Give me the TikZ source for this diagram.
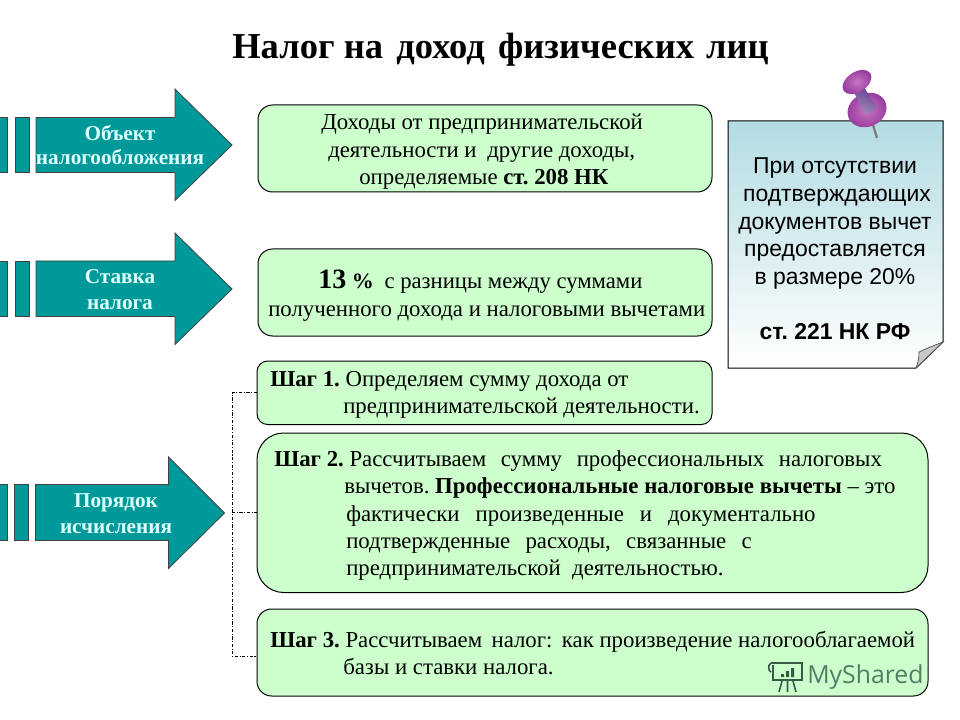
\documentclass[tikz,border=0pt]{standalone}
\usepackage{fontspec}
\setmainfont{Liberation Serif}
\newfontfamily\notefont{Liberation Sans}
\newfontfamily\markfont{Open Sans}
\definecolor{teal1}{HTML}{009999}
\definecolor{mint}{HTML}{CCFFCC}
\definecolor{pale}{HTML}{DDFFFF}
\definecolor{noteTop}{HTML}{B3DCE3}
\definecolor{pinL}{HTML}{C974C2}
\definecolor{pinA}{HTML}{93399B}
\definecolor{pinB}{HTML}{5E3A8C}
\definecolor{pinS}{HTML}{A88CBE}
\definecolor{wm}{HTML}{4F8066}
\tikzset{
  arrowshape/.style={fill=teal1,draw=black!75,line width=.6pt},
  arrowlabel/.style={font=\frenchspacing\fontsize{15.9}{19.5}\selectfont\bfseries,text=pale,align=center,inner sep=0pt},
  greenbox/.style={draw=black,fill=mint,line width=.75pt,rounded corners=#1},
  bodytext/.style={font=\frenchspacing\fontsize{17.1}{20.5}\selectfont,align=left,anchor=north west,inner sep=0pt},
  pinpart/.style={inner color=pinL,outer color=pinA},
  wmline/.style={wm!70!black,line width=1.2pt},
  bus/.style={draw=black,line width=.5pt,dash pattern=on 2.4pt off 1.2pt on .8pt off 1.2pt},
}
\begin{document}
\begin{tikzpicture}[x=.75pt,y=-.75pt]
\useasboundingbox (0,0) rectangle (960,720);
\fill[white] (0,0) rectangle (960,720);

\node[font=\frenchspacing\fontsize{27.4}{30}\selectfont\bfseries,inner sep=0pt,anchor=base] (title) at (500.5,59) {Налог на\hspace{10pt}доход\hspace{10pt}физических\hspace{9pt}лиц};

% arrows
\fill[teal1,draw=black!75,line width=.6pt] (-3,117.5) rectangle (7.5,172.5);
\fill[teal1,draw=black!75,line width=.6pt] (15,117.5) rectangle (29.5,172.5);
\path[arrowshape] (36,117.5) -- (175,117.5) -- (175,89) -- (232,145) -- (175,200.5) -- (175,172.5) -- (36,172.5) -- cycle;
\node[arrowlabel,font=\frenchspacing\fontsize{15.9}{18}\selectfont\bfseries] (a1) at (120,145) {Объект\\налогообложения};

\fill[teal1,draw=black!75,line width=.6pt] (-3,261) rectangle (7.5,316.5);
\fill[teal1,draw=black!75,line width=.6pt] (15,261) rectangle (29.5,316.5);
\path[arrowshape] (36,261) -- (175,261) -- (175,233) -- (232,289) -- (175,344.5) -- (175,316.5) -- (36,316.5) -- cycle;
\node[arrowlabel] (a2) at (120,290) {Ставка\\налога};

\fill[teal1,draw=black!75,line width=.6pt] (-3,484.5) rectangle (7.5,540.5);
\fill[teal1,draw=black!75,line width=.6pt] (14.5,484.5) rectangle (28.5,540.5);
\path[arrowshape] (35.5,484.5) -- (168.5,484.5) -- (168.5,457) -- (224.5,513) -- (168.5,568.5) -- (168.5,540.5) -- (35.5,540.5) -- cycle;
\node[arrowlabel] (a3) at (116,514) {Порядок\\исчисления};

% green boxes
\draw[greenbox=11pt] (258,105) rectangle (712,192);
\draw[greenbox=11pt] (258,249) rectangle (712,336);
\draw[greenbox=8pt] (257,361) rectangle (712,424.5);
\draw[greenbox=20pt] (257,433) rectangle (928,592.5);
\draw[greenbox=11pt] (257,609) rectangle (928,696);

\coordinate (s1) at (257,392.5);
\coordinate (s2) at (257,512.5);
\coordinate (s3) at (257,656);
\coordinate (busTop) at (232,392.5);
\coordinate (busMid) at (232,512.5);
\coordinate (busEnd) at (232,656);
\draw[bus] (s1) -- (busTop) -- (busEnd) -- (s3);
\draw[bus] (busMid) -- (s2);

% texts
\node[bodytext] (t1) at (321,114) {\fontsize{17.1}{20.25}\selectfont Доходы от предпринимательской\\\hspace*{5.25pt}деятельности и\hspace{8pt}другие доходы,\\\hspace*{28.5pt}определяемые \textbf{ст. 208 НК}};
\node[bodytext] (t2) at (268,270) {\fontsize{17}{21.75}\selectfont\hspace*{37.5pt}{\fontsize{21}{21.75}\selectfont\textbf{13}} {\fontsize{16.5}{21.75}\selectfont\textbf{\%}}\hspace{8pt}с разницы между суммами\\полученного дохода и налоговыми вычетами};
\node[bodytext] (t3) at (270,371) {\textbf{Шаг 1.} Определяем сумму дохода от\\\hspace*{54.75pt}предпринимательской деятельности.};
\node[bodytext] (t4) at (274,450.5) {\textbf{Шаг 2.} Рассчитываем\hspace{11pt}сумму\hspace{11pt}профессиональных\hspace{11pt}налоговых\\\hspace*{52.5pt}вычетов. \textbf{Профессиональные налоговые вычеты} -- это\\\hspace*{54pt}фактически\hspace{12pt}произведенные\hspace{12pt}и\hspace{12pt}документально\\\hspace*{54pt}подтвержденные\hspace{11.5pt}расходы,\hspace{11.5pt}связанные\hspace{11.5pt}с\\\hspace*{54pt}предпринимательской\ \ деятельностью.};
\node[bodytext] (t5) at (270,631) {\textbf{Шаг 3.} Рассчитываем\hspace{7pt}налог:\hspace{7pt}как произведение налогооблагаемой\\\hspace*{54.75pt}базы и ставки налога.};

% note
\path[draw=black,line width=.75pt,top color=noteTop,bottom color=white] (728,121) -- (943,121) -- (943,342) -- (916,368) -- (728,368) -- cycle;
\draw[black!70,line width=.5pt,fill=black!22] (943,342) .. controls (930,347) and (923,350) .. (919,352) .. controls (919,358) and (918,363) .. (916,368) -- cycle;
\node[font=\frenchspacing\notefont\fontsize{17.2}{20.8}\selectfont,align=center,inner sep=0pt,anchor=north] (n1) at (835,157.5) {При отсутствии\\\hspace*{3pt}подтверждающих\\документов вычет\\предоставляется\\в размере 20\%\\[20.5pt]\textbf{ст. 221 НК РФ}};

% pin
\draw[black!50,line width=1.8pt] (873,125) -- (877,138);
\shade[pinpart,rotate around={25:(867,110)}] (867,110) ellipse [x radius=15pt,y radius=12.5pt];
\shade[left color=pinB,right color=pinS,shading angle=-25] (852,89) -- (862,84) -- (877,108) -- (866,115) -- cycle;
\shade[pinpart,rotate around={33:(857,82)}] (857,82) ellipse [x radius=12pt,y radius=7.5pt];

% watermark
\node[font=\markfont\fontsize{18.6}{24}\selectfont,text=wm,inner sep=0pt,anchor=base west] (mark) at (807,683) {MyShared};
\draw[wmline] (771,663) -- (802,663) -- (802,680) -- (773,680) -- (773,665);
\draw[wmline] (771,663) .. controls (767,665) and (769,672) .. (771,672);
\fill[wm!70!black] (781,677) rectangle (784,674) (786,677) rectangle (789,671) (791,677) rectangle (794,668);
\draw[wmline] (782,681) -- (779,692) (787.5,681) -- (787.5,692) (793,681) -- (796,692);
\end{tikzpicture}
\end{document}
